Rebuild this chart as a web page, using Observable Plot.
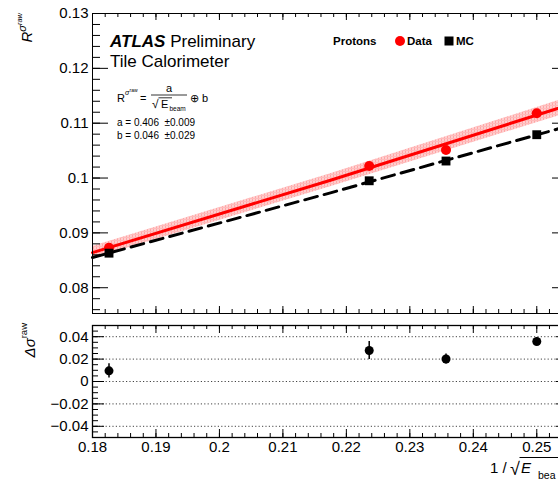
<!DOCTYPE html>
<html><head><meta charset="utf-8">
<script src="https://cdn.jsdelivr.net/npm/d3@7"></script>
<script src="https://cdn.jsdelivr.net/npm/@observablehq/plot@0.6"></script>
<style>
html,body{margin:0;padding:0;background:#fff;overflow:hidden;}
#wrap{position:relative;width:558px;height:482px;overflow:hidden;font-family:"Liberation Sans",Arial,Helvetica,sans-serif;}
#wrap > svg{position:absolute;left:0;max-width:none !important;}
</style></head><body><div id="wrap"></div>
<script>
// ---- data ----
const invSqrtE = [0.1826, 0.2236, 0.2357, 0.25];
const dataR = [0.0873, 0.1022, 0.1051, 0.1118];
const mcR = [0.0863, 0.0995, 0.1031, 0.1079];
const fitX = [0.18, 0.2175, 0.255];
const dataFit = [0.0864, 0.0996, 0.1133];
const dataBandLow = [0.0853, 0.0984, 0.1119];
const dataBandHigh = [0.0875, 0.1008, 0.1147];
const mcFit = [0.0855, 0.0973, 0.1095];
const deltaSigma = [0.0095, 0.0277, 0.0201, 0.0357];
const deltaErr = [0.0064, 0.0080, 0.0045, 0.0035];
const xTickLabels = [0.18, 0.19, 0.2, 0.21, 0.22, 0.23, 0.24, 0.25];
const yTickLabelsTop = [0.08, 0.09, 0.1, 0.11, 0.12, 0.13];
const yTickLabelsBottom = [-0.04, -0.02, 0, 0.02, 0.04];

const points = invSqrtE.map((x, i) => ({x, data: dataR[i], mc: mcR[i], d: deltaSigma[i], e: deltaErr[i]}));
const fit = fitX.map((x, i) => ({x, d: dataFit[i], lo: dataBandLow[i], hi: dataBandHigh[i], mc: mcFit[i]}));

const xMinor = d3.range(0, 38).map(i => +(0.18 + i * 0.002).toFixed(4));
const yMinorTop = d3.range(0, 28).map(i => +(0.076 + i * 0.002).toFixed(4));
const yMinorBottom = d3.range(0, 21).map(i => +(-0.05 + i * 0.005).toFixed(4));
const fmt = d => (d < 0 ? "\u2212" : "") + String(Math.abs(d));

const FONT = '"Liberation Sans", Arial, Helvetica, sans-serif';
const W = 578, L = 92, R = 10, innerW = W - L - R;
const wrap = document.getElementById("wrap");

// pattern for the hatched band
const defs = document.createElementNS("http://www.w3.org/2000/svg", "svg");
defs.setAttribute("width", 0); defs.setAttribute("height", 0);
defs.innerHTML = `<defs><pattern id="pinkband" width="3" height="3" patternUnits="userSpaceOnUse">
<rect width="3" height="3" fill="#ffcece"/><rect width="1" height="3" fill="#ffa6a6"/><rect width="3" height="1" fill="#ffbaba"/></pattern></defs>`;
wrap.appendChild(defs);

function tickMarks(innerH, xMaj, xMin, yMaj, yMin, lens) {
  const [yMajL, yMinL, xMajL, xMinL] = lens;
  return [
    Plot.tickY(yMaj, {y: d => d, insetRight: innerW - yMajL, stroke: "black"}),
    Plot.tickY(yMin, {y: d => d, insetRight: innerW - yMinL, stroke: "black"}),
    Plot.tickY(yMaj, {y: d => d, insetLeft: innerW - yMajL, stroke: "black"}),
    Plot.tickY(yMin, {y: d => d, insetLeft: innerW - yMinL, stroke: "black"}),
    Plot.tickX(xMaj, {x: d => d, insetTop: innerH - xMajL, stroke: "black"}),
    Plot.tickX(xMin, {x: d => d, insetTop: innerH - xMinL, stroke: "black"}),
    Plot.tickX(xMaj, {x: d => d, insetBottom: innerH - xMajL, stroke: "black"}),
    Plot.tickX(xMin, {x: d => d, insetBottom: innerH - xMinL, stroke: "black"})
  ];
}

// ---- top panel ----
const topH = 320, topMT = 13, topMB = 7;
const topPlot = Plot.plot({
  width: W, height: topH, marginLeft: L, marginRight: R, marginTop: topMT, marginBottom: topMB,
  style: {fontFamily: FONT, background: "transparent", color: "black", maxWidth: "none"},
  x: {domain: [0.18, 0.255]},
  y: {domain: [0.0753, 0.13]},
  marks: [
    Plot.areaY(fit, {x: "x", y1: "lo", y2: "hi", fill: "url(#pinkband)"}),
    Plot.line(fit, {x: "x", y: "d", stroke: "#ff0000", strokeWidth: 3}),
    Plot.dot(points, {x: "x", y: "data", r: 5, fill: "#ff0000"}),
    Plot.line(fit, {x: "x", y: "mc", stroke: "black", strokeWidth: 3, strokeDasharray: "13,7"}),
    Plot.dot(points, {x: "x", y: "mc", r: 5, symbol: "square", fill: "black"}),
    ...tickMarks(topH - topMT - topMB, xTickLabels, xMinor, yTickLabelsTop, yMinorTop, [16, 8, 7, 4]),
    Plot.axisY(yTickLabelsTop, {tickSize: 0, tickPadding: 4, fontSize: 15, label: null, tickFormat: fmt}),
    Plot.axisX({ticks: [], label: null}),
    Plot.frame({stroke: "black"})
  ]
});
topPlot.style.top = "0px";
topPlot.style.maxWidth = "none";
wrap.appendChild(topPlot);

// ---- bottom panel ----
const botH = 164, botMT = 7, botMB = 45;
const botPlot = Plot.plot({
  width: W, height: botH, marginLeft: L, marginRight: R, marginTop: botMT, marginBottom: botMB,
  style: {fontFamily: FONT, background: "transparent", color: "black", maxWidth: "none"},
  x: {domain: [0.18, 0.255]},
  y: {domain: [-0.05, 0.05]},
  marks: [
    Plot.ruleY(yTickLabelsBottom, {y: d => d, stroke: "#444", strokeDasharray: "1.2,2.2", strokeWidth: 1}),
    Plot.ruleX(points, {x: "x", y1: d => d.d - d.e, y2: d => d.d + d.e, stroke: "black", strokeWidth: 1.5}),
    Plot.dot(points, {x: "x", y: "d", r: 4.5, fill: "black"}),
    ...tickMarks(botH - botMT - botMB, xTickLabels, xMinor, yTickLabelsBottom, yMinorBottom, [12, 6, 8, 4]),
    Plot.axisY(yTickLabelsBottom, {tickSize: 0, tickPadding: 4, fontSize: 15, label: null, tickFormat: fmt}),
    Plot.axisX(xTickLabels, {tickSize: 0, tickPadding: 4, fontSize: 15, label: null, tickFormat: fmt}),
    Plot.frame({stroke: "black", strokeWidth: 1.3})
  ]
});
botPlot.style.top = "318px";
botPlot.style.maxWidth = "none";
wrap.appendChild(botPlot);

// ---- annotations overlay ----
const ov = document.createElementNS("http://www.w3.org/2000/svg", "svg");
ov.setAttribute("width", 558); ov.setAttribute("height", 482);
ov.style.top = "0px";
ov.setAttribute("font-family", FONT);
ov.innerHTML = `
<text x="110" y="47" font-size="17"><tspan font-weight="bold" font-style="italic">ATLAS</tspan> Preliminary</text>
<text x="110" y="67" font-size="17">Tile Calorimeter</text>
<g font-size="11">
  <text x="117" y="102">R</text>
  <text x="125" y="95" font-size="7" font-style="italic">σ</text>
  <text x="129.5" y="92" font-size="5">raw</text>
  <text x="140" y="102">=</text>
  <text x="169" y="92" text-anchor="middle">a</text>
  <line x1="151" x2="187" y1="95" y2="95" stroke="black" stroke-width="0.8"/>
  <text x="152" y="108" font-size="12">√</text>
  <line x1="158.5" x2="172" y1="97.8" y2="97.8" stroke="black" stroke-width="0.8"/>
  <text x="161" y="108">E</text>
  <text x="169.5" y="111" font-size="6.5">beam</text>
  <text x="190" y="102">⊕ b</text>
</g>
<text x="117" y="126" font-size="10" xml:space="preserve">a = 0.406  ±0.009</text>
<text x="117" y="139" font-size="10" xml:space="preserve">b = 0.046  ±0.029</text>
<g font-size="11.5" font-weight="bold">
  <text x="333" y="45">Protons</text>
  <circle cx="400" cy="41" r="5" fill="#ff0000"/>
  <text x="407" y="45">Data</text>
  <rect x="444.5" y="36.5" width="9" height="9" fill="black"/>
  <text x="456" y="45">MC</text>
</g>
<text transform="translate(32,13) rotate(-90)" text-anchor="end"><tspan font-style="italic" font-size="15">R</tspan><tspan font-style="italic" font-size="11" dy="-6">σ</tspan><tspan font-size="7.5" dy="-4" font-style="italic">raw</tspan></text>
<text transform="translate(35,323) rotate(-90)" text-anchor="end"><tspan font-style="italic" font-size="15">Δσ</tspan><tspan font-size="9.5" dy="-8">raw</tspan></text>
<g font-size="15">
  <text x="490" y="473">1 /</text>
  <text x="510" y="475" font-size="18">√</text>
  <line x1="519.5" x2="560" y1="457.5" y2="457.5" stroke="black" stroke-width="1"/>
  <text x="521" y="473" font-style="italic">E</text>
  <text x="538" y="479" font-size="10.5">bea</text>
</g>`;
wrap.appendChild(ov);
</script>
</body></html>
